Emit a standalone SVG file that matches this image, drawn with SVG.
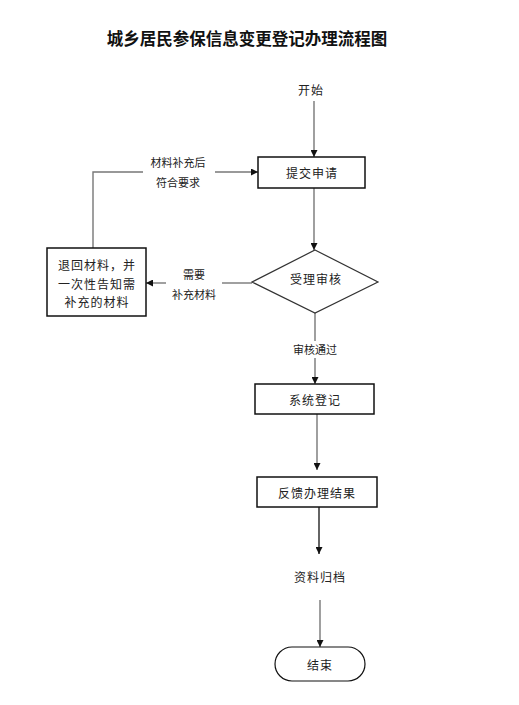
<svg xmlns="http://www.w3.org/2000/svg" width="519" height="705" viewBox="0 0 519 705">
<style>
text{font-family:"Noto Sans CJK SC","Liberation Sans",sans-serif;fill:#222;text-anchor:middle;dominant-baseline:central}
.t{font-size:16.5px;font-weight:bold;fill:#111}
.n{font-size:12px;letter-spacing:1px}
.s{font-size:11px}
.box{fill:#fff;stroke:#111;stroke-width:1.5}
.ln{fill:none;stroke:#777;stroke-width:1.4}
.lk{fill:none;stroke:#111;stroke-width:1.3}
</style>
<defs>
<marker id="ah" viewBox="0 0 10 10" refX="10" refY="5" markerWidth="7" markerHeight="7" markerUnits="userSpaceOnUse" orient="auto">
<path d="M0,0 L10,5 L0,10 Z" fill="#111"/>
</marker>
</defs>
<rect width="519" height="705" fill="#fff"/>
<text class="t" x="247" y="38">城乡居民参保信息变更登记办理流程图</text>

<g id="connectors">
<line class="ln" x1="314" y1="101" x2="314" y2="157" marker-end="url(#ah)"/>
<line class="ln" x1="314" y1="188" x2="314" y2="250" marker-end="url(#ah)"/>
<line class="ln" x1="252" y1="283" x2="222" y2="283"/>
<line class="ln" x1="166" y1="283" x2="146" y2="283" marker-end="url(#ah)"/>
<polyline class="ln" points="93,248 93,172 143,172"/>
<line class="ln" x1="215" y1="172" x2="258" y2="172" marker-end="url(#ah)"/>
<line class="ln" x1="315" y1="313" x2="315" y2="341"/>
<line class="ln" x1="315" y1="358" x2="315" y2="384" marker-end="url(#ah)"/>
<line class="ln" x1="317" y1="414" x2="317" y2="470" marker-end="url(#ah)"/>
<line class="lk" x1="319" y1="507" x2="319" y2="554" marker-end="url(#ah)"/>
<line class="ln" x1="320" y1="600" x2="320" y2="647" marker-end="url(#ah)"/>
<text class="s" x="178" y="162">材料补充后</text>
<text class="s" x="178" y="182">符合要求</text>
<text class="s" x="194" y="274">需要</text>
<text class="s" x="194" y="294">补充材料</text>
<text class="s" x="315" y="349">审核通过</text>
</g>

<g id="start"><text class="n" x="311" y="89">开始</text></g>
<g id="submit"><rect class="box" x="258" y="157" width="107" height="31"/><text class="n" x="312" y="172">提交申请</text></g>
<g id="review"><polygon class="box" points="315,250 378,282 315,313 252,282" style="stroke-width:1.2;stroke:#333"/><text class="n" x="316" y="278">受理审核</text></g>
<g id="return"><rect class="box" x="47" y="248" width="99" height="68"/>
<text class="n" x="97" y="264">退回材料，并</text>
<text class="n" x="97" y="283">一次性告知需</text>
<text class="n" x="97" y="301">补充的材料</text></g>
<g id="register"><rect class="box" x="255" y="384" width="119" height="30"/><text class="n" x="315" y="399">系统登记</text></g>
<g id="feedback"><rect class="box" x="257" y="477" width="120" height="30"/><text class="n" x="317" y="492">反馈办理结果</text></g>
<g id="archive"><text class="n" x="320" y="576">资料归档</text></g>
<g id="end"><rect class="box" x="275" y="647" width="90" height="34" rx="17" ry="17" style="stroke-width:1.2"/><text class="n" x="320" y="664">结束</text></g>
</svg>
